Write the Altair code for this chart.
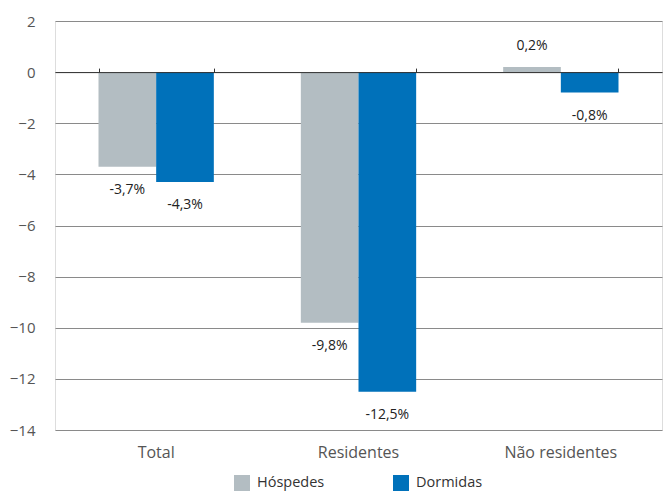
import altair as alt
import pandas as pd

categories = ["Total", "Residentes", "Não residentes"]
series = ["Hóspedes", "Dormidas"]
hospedes = [-3.7, -9.8, 0.2]
dormidas = [-4.3, -12.5, -0.8]
y_ticks = [-14, -12, -10, -8, -6, -4, -2, 0, 2]
colors = ["#B3BDC2", "#0071BA"]

rows = []
for c, h, d in zip(categories, hospedes, dormidas):
    for s, v in ((series[0], h), (series[1], d)):
        rows.append({"cat": c, "serie": s, "value": v,
                     "label": f"{v:.1f}".replace(".", ",") + "%"})
df = pd.DataFrame(rows)

FONT = "Open Sans"

x_scale = alt.Scale(domain=categories, paddingInner=0.43, paddingOuter=0.215)
xo_scale = alt.Scale(domain=series, paddingInner=0, paddingOuter=0)
y_scale = alt.Scale(domain=[-14, 2], nice=False, zero=False)

y_axis = alt.Axis(title=None, values=y_ticks, domain=False, ticks=False,
                  grid=True, gridColor="#8a8a8a", gridWidth=1,
                  labelFontSize=15, labelColor="#555555", labelFont=FONT,
                  labelPadding=20)

base = alt.Chart(df)

bars = base.mark_bar().encode(
    x=alt.X("cat:N", scale=x_scale, sort=categories,
            axis=alt.Axis(title=None, orient="bottom", domain=False, ticks=False,
                          grid=False, labelAngle=0, labelFontSize=16,
                          labelColor="#555555", labelFont=FONT, labelPadding=14)),
    xOffset=alt.XOffset("serie:N", scale=xo_scale, sort=series),
    y=alt.Y("value:Q", scale=y_scale, axis=y_axis),
    color=alt.Color("serie:N", scale=alt.Scale(domain=series, range=colors),
                    legend=alt.Legend(title=None, orient="none", direction="horizontal",
                                      legendX=179, legendY=454, padding=0,
                                      symbolType="square", symbolSize=256,
                                      symbolStrokeWidth=0, symbolOpacity=1,
                                      labelFontSize=14.5, labelColor="#333333",
                                      labelFont=FONT, labelOffset=7,
                                      columnPadding=68)),
)

neg = base.transform_filter("datum.value < 0").mark_text(
    baseline="middle", dy=23, fontSize=14, font=FONT, color="#222222"
).encode(
    x=alt.X("cat:N", scale=x_scale, sort=categories, axis=None),
    xOffset=alt.XOffset("serie:N", scale=xo_scale, sort=series),
    y=alt.Y("value:Q", scale=y_scale, axis=y_axis),
    text="label:N",
)

pos = base.transform_filter("datum.value >= 0").mark_text(
    baseline="middle", dy=-21, fontSize=14, font=FONT, color="#222222"
).encode(
    x=alt.X("cat:N", scale=x_scale, sort=categories,
            axis=alt.Axis(title=None, orient="top", labels=False, offset=-51.1,
                          domain=True, domainColor="#333333", domainWidth=1,
                          grid=False, ticks=True, tickBand="extent",
                          tickColor="#333333", tickSize=4, tickWidth=1, zindex=2)),
    xOffset=alt.XOffset("serie:N", scale=xo_scale, sort=series),
    y=alt.Y("value:Q", scale=y_scale, axis=y_axis),
    text="label:N",
)

chart = alt.layer(bars, neg, pos).resolve_axis(x="independent").properties(
    width=607, height=409,
    padding={"left": 55, "top": 21, "right": 5, "bottom": 61},
    autosize=alt.AutoSizeParams(type="none"),
).configure_view(strokeWidth=0, stroke="transparent").configure(background="white")

chart.save("out.html", embed_options={"renderer": "svg", "actions": False})
